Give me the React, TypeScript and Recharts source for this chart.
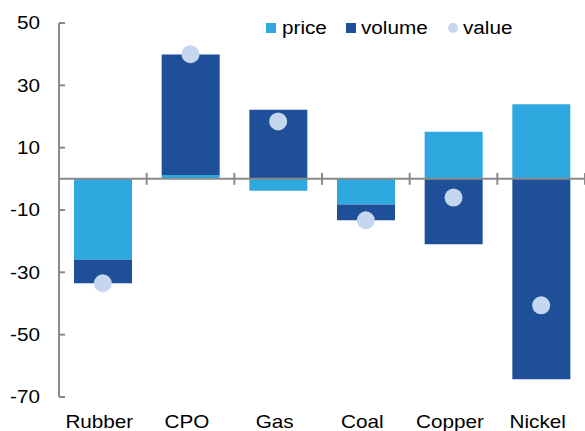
import React from 'react';
import { ComposedChart, Bar, Line, XAxis, YAxis, ReferenceLine, Legend } from 'recharts';

const categories = ['Rubber', 'CPO', 'Gas', 'Coal', 'Copper', 'Nickel'];
const price = [-26, 1.2, -3.8, -8.2, 15.1, 23.9];
const volume = [-7.5, 38.7, 22.2, -5.1, -21, -64.3];
const value = [-33.5, 40, 18.4, -13.3, -6, -40.6];
const yTicks = [50, 30, 10, -10, -30, -50, -70];

const data = categories.map((c, i) => ({ name: c, price: price[i], volume: volume[i], value: value[i] }));

const LIGHT = '#2da9df';
const DARK = '#1f4f99';
const DOT = '#c5d7ee';
const AXIS = '#8a8a8a';
const FONT = '"Liberation Sans", Arial, sans-serif';
const ZERO_TICK = 1.9;
const SX = 1.15;

const YTick = (props: any) => {
  const { x, y, payload } = props;
  return (
    <g>
      <line x1={x + 19} x2={x + 25} y1={y} y2={y} stroke={AXIS} strokeWidth={2} />
      <text
        transform={`translate(${x},${y}) scale(${SX},1)`}
        x={0}
        y={0}
        dy="0.36em"
        textAnchor="end"
        fontSize={18}
        fontFamily={FONT}
        fill="#000"
      >
        {payload.value}
      </text>
    </g>
  );
};

const XTick = (props: any) => {
  const { x, y, payload } = props;
  return (
    <text
      transform={`translate(${x - 3.5},${y + 23}) scale(${SX},1)`}
      x={0}
      y={0}
      textAnchor="middle"
      fontSize={18}
      fontFamily={FONT}
      fill="#000"
    >
      {payload.value}
    </text>
  );
};

const legendItems = [
  { label: 'price', color: LIGHT, shape: 'square', left: 266 },
  { label: 'volume', color: DARK, shape: 'square', left: 345.5 },
  { label: 'value', color: DOT, shape: 'circle', left: 447.5 },
];

const renderLegend = () => (
  <div style={{ position: 'relative', width: 585, height: 40, fontFamily: FONT, fontSize: 18, lineHeight: '18px', color: '#000' }}>
    {legendItems.map((it) => (
      <React.Fragment key={it.label}>
        <span
          style={{
            position: 'absolute',
            left: it.left,
            top: 23,
            width: 10,
            height: 10,
            background: it.color,
            borderRadius: it.shape === 'circle' ? '50%' : 0,
          }}
        />
        <span
          style={{
            position: 'absolute',
            left: it.left + 15.5,
            top: 19,
            whiteSpace: 'nowrap',
            transform: `scaleX(${SX})`,
            transformOrigin: 'left center',
          }}
        >
          {it.label}
        </span>
      </React.Fragment>
    ))}
  </div>
);

export default function App() {
  return (
    <div style={{ position: 'absolute', left: 0, top: 0, width: 585, height: 431, background: '#fff' }}>
      <ComposedChart
        width={585}
        height={431}
        data={data}
        stackOffset="sign"
        margin={{ top: 23, right: 0, bottom: 0, left: 0 }}
      >
        <XAxis
          dataKey="name"
          axisLine={false}
          tickLine={false}
          height={34}
          tick={<XTick />}
          interval={0}
        />
        <YAxis
          domain={[-70, 50]}
          ticks={yTicks}
          width={59}
          tickLine={false}
          tickSize={0}
          tickMargin={19}
          axisLine={{ stroke: AXIS, strokeWidth: 2 }}
          tick={<YTick />}
          interval={0}
        />
        <Bar dataKey="price" stackId="a" fill={LIGHT} barSize={58} isAnimationActive={false} />
        <Bar dataKey="volume" stackId="a" fill={DARK} barSize={58} isAnimationActive={false} />
        <ReferenceLine y={0} stroke={AXIS} strokeWidth={2} />
        {categories.slice(1).map((c) => (
          <ReferenceLine
            key={c}
            segment={[{ x: c, y: -ZERO_TICK }, { x: c, y: ZERO_TICK }]}
            position="start"
            stroke={AXIS}
            strokeWidth={2}
          />
        ))}
        <ReferenceLine
          segment={[{ x: categories[categories.length - 1], y: -ZERO_TICK }, { x: categories[categories.length - 1], y: ZERO_TICK }]}
          position="end"
          stroke={AXIS}
          strokeWidth={2}
        />
        <Line
          dataKey="value"
          stroke="none"
          strokeWidth={0}
          dot={{ r: 9, fill: DOT, stroke: 'none' }}
          activeDot={false}
          legendType="none"
          isAnimationActive={false}
        />
        <Legend
          layout="horizontal"
          verticalAlign="middle"
          align="center"
          content={renderLegend}
          wrapperStyle={{ position: 'absolute', left: 0, top: 0, width: 585, height: 40 }}
        />
      </ComposedChart>
    </div>
  );
}
